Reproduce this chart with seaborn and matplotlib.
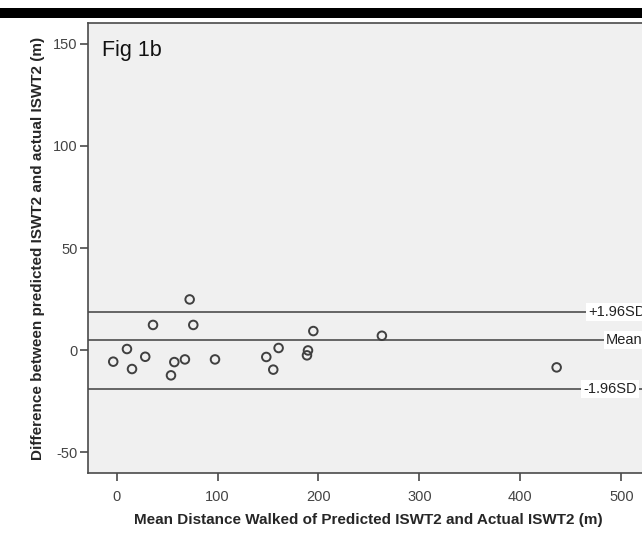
import matplotlib
matplotlib.use("Agg")
import pandas as pd
import seaborn as sns
import matplotlib.pyplot as plt
from matplotlib import font_manager
from matplotlib.patches import Rectangle

# Bland-Altman points
mean_distance = [-3.3, 10.3, 15.3, 28.4, 36.1, 53.9, 57.2, 67.7, 72.4, 76.0,
                 97.5, 148.3, 155.2, 160.5, 188.6, 189.6, 194.9, 262.8, 435.9]
difference = [-5.7, 0.5, -9.3, -3.3, 12.3, -12.4, -5.9, -4.6, 24.8, 12.3,
              -4.6, -3.4, -9.6, 1.0, -2.6, -0.2, 9.3, 7.0, -8.5]

ref_names = ["+1.96SD", "Mean", "-1.96SD"]
ref_values = [18.7, 4.8, -19.1]
ref_label_x = [467, 485, 462]

xticks = [0, 100, 200, 300, 400, 500]
yticks = [-50, 0, 50, 100, 150]

df = pd.DataFrame({"mean": mean_distance, "diff": difference})

sns.set_style("ticks")
plt.rcParams["font.family"] = ["Liberation Sans", "DejaVu Sans"]
plt.rcParams["axes.unicode_minus"] = False

# SPSS-ish condensed font for ticks, if it's around
narrow_names = {f.name for f in font_manager.fontManager.ttflist}
if "Liberation Sans Narrow" in narrow_names:
    tick_font, tick_size = "Liberation Sans Narrow", 12
else:
    tick_font, tick_size = "Liberation Sans", 10.5

fig = plt.figure(figsize=(6.42, 5.37), dpi=100)
fig.add_artist(Rectangle((0, (537 - 18) / 537), 1, 10 / 537,
                         transform=fig.transFigure, color="black", lw=0))

ax = fig.add_axes([88.5 / 642, 63.7 / 537, 611.5 / 642, 450.6 / 537])
ax.set_facecolor("#f0f0f0")

for name, val, lx in zip(ref_names, ref_values, ref_label_x):
    ax.axhline(val, color="#5a5a5a", lw=1.3, zorder=1)
    ax.text(lx, val, name, fontsize=tick_size, family=tick_font, color="#222222",
            va="center", ha="left", zorder=3,
            bbox=dict(facecolor="white", edgecolor="none", pad=1.5))

sns.scatterplot(data=df, x="mean", y="diff", ax=ax, marker="o", s=38,
                facecolor="none", edgecolor="#404040", linewidth=1.4, zorder=4)

ax.set_xlim(-27.8, 577.9)
ax.set_ylim(-60.4, 160.4)
ax.set_xticks(xticks)
ax.set_yticks(yticks)

ax.text(-14, 147, "Fig 1b", fontsize=15.5, color="#111111", va="center", ha="left")

for side in ["left", "bottom", "top", "right"]:
    ax.spines[side].set_color("#4a4a4a")
    ax.spines[side].set_linewidth(1.2)

ax.tick_params(axis="both", length=6, width=1.2, color="#4a4a4a",
               labelsize=tick_size, labelcolor="#444444")
ax.tick_params(axis="x", pad=6)
ax.tick_params(axis="y", pad=2)
for lab in ax.get_xticklabels() + ax.get_yticklabels():
    lab.set_family(tick_font)

ax.set_xlabel("Mean Distance Walked of Predicted ISWT2 and Actual ISWT2 (m)",
              fontsize=11, fontweight="bold")
ax.set_ylabel("Difference between predicted ISWT2 and actual ISWT2 (m)",
              fontsize=11, fontweight="bold")
ax.xaxis.set_label_coords((368 - 88.5) / 611.5, -(513 - 473.3) / 450.6)
ax.yaxis.set_label_coords(-(88.5 - 45) / 611.5, (473.3 - 248) / 450.6)

fig.savefig("out.png", dpi=100)
